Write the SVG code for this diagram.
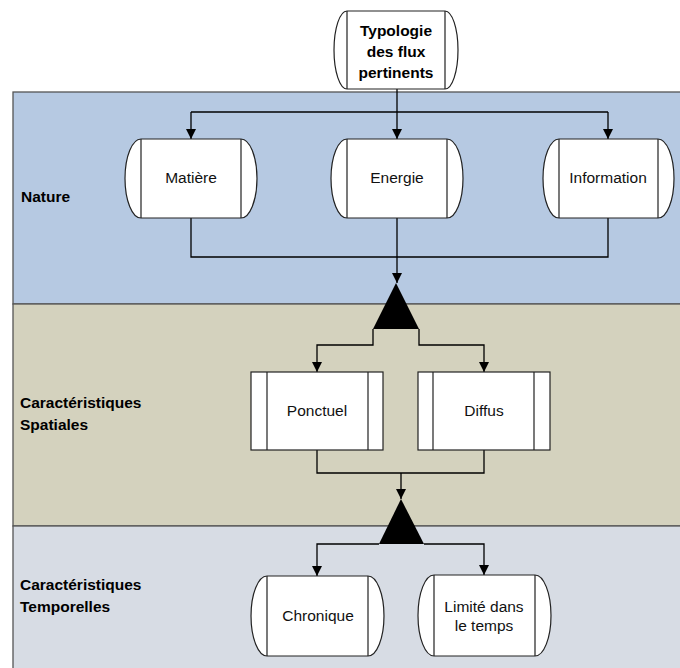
<svg xmlns="http://www.w3.org/2000/svg" width="680" height="668" viewBox="0 0 680 668">
<style>
.band{stroke:#555;stroke-width:1.3}
.node{fill:#fff;stroke:#222;stroke-width:1.2}
.inner{stroke:#222;stroke-width:1.2;fill:none}
.lbl{font-family:"Liberation Sans",Arial,sans-serif;font-size:15.5px;font-weight:bold;fill:#000}
.txt{font-family:"Liberation Sans",Arial,sans-serif;font-size:15.5px;fill:#111;text-anchor:middle}
.bt{font-family:"Liberation Sans",Arial,sans-serif;font-size:15.5px;font-weight:bold;fill:#000;text-anchor:middle}
.con{fill:none;stroke:#000;stroke-width:1.3}
</style>
<defs>
<marker id="ah" viewBox="0 0 10 10" refX="10" refY="5" markerWidth="10" markerHeight="10" markerUnits="userSpaceOnUse" orient="auto">
<path d="M0,0 L10,5 L0,10 z" fill="#000"/>
</marker>
</defs>
<g id="bands">
<rect class="band" x="13" y="92" width="680" height="212" fill="#b6c9e2"/>
<rect class="band" x="13" y="304" width="680" height="222" fill="#d4d2be"/>
<rect class="band" x="13" y="526" width="680" height="160" fill="#d7dce4"/>
<text class="lbl" x="21" y="202">Nature</text>
<text class="lbl" x="20" y="408">Caractéristiques</text>
<text class="lbl" x="20" y="430">Spatiales</text>
<text class="lbl" x="20" y="590">Caractéristiques</text>
<text class="lbl" x="20" y="612">Temporelles</text>
</g>
<g id="connectors">
<path class="con" d="M397,89 V112"/>
<path class="con" d="M191,112 H608"/>
<path class="con" d="M191,112 V139" marker-end="url(#ah)"/>
<path class="con" d="M397,112 V139" marker-end="url(#ah)"/>
<path class="con" d="M608,112 V139" marker-end="url(#ah)"/>
<path class="con" d="M191,218 V257 H608 V218"/>
<path class="con" d="M397,218 V283" marker-end="url(#ah)"/>
<path class="con" d="M373,329 V345 H317 V372" marker-end="url(#ah)"/>
<path class="con" d="M419,329 V345 H484 V372" marker-end="url(#ah)"/>
<path class="con" d="M317,450 V473 H484 V450"/>
<path class="con" d="M401,473 V499" marker-end="url(#ah)"/>
<path class="con" d="M379,544 H317 V576" marker-end="url(#ah)"/>
<path class="con" d="M424,544 H484 V575" marker-end="url(#ah)"/>
</g>
<g id="merge1"><path d="M396,283 L419,329 L373,329 z" fill="#000"/></g>
<g id="merge2"><path d="M401,499 L424,544 L379,544 z" fill="#000"/></g>
<g id="typologie">
<path class="node" d="M347,11 H445 A13,39 0 0 1 445,89 H347 A13,39 0 0 1 347,11 z"/>
<path class="inner" d="M347,11 V89 M445,11 V89"/>
<text class="bt" x="396" y="36">Typologie</text>
<text class="bt" x="396" y="57">des flux</text>
<text class="bt" x="396" y="78">pertinents</text>
</g>
<g id="matiere">
<path class="node" d="M141,139 H241 A16,39.5 0 0 1 241,218 H141 A16,39.5 0 0 1 141,139 z"/>
<path class="inner" d="M141,139 V218 M241,139 V218"/>
<text class="txt" x="191" y="183">Matière</text>
</g>
<g id="energie">
<path class="node" d="M347,139 H447 A16,39.5 0 0 1 447,218 H347 A16,39.5 0 0 1 347,139 z"/>
<path class="inner" d="M347,139 V218 M447,139 V218"/>
<text class="txt" x="397" y="183">Energie</text>
</g>
<g id="information">
<path class="node" d="M559,139 H658 A16,39.5 0 0 1 658,218 H559 A16,39.5 0 0 1 559,139 z"/>
<path class="inner" d="M559,139 V218 M658,139 V218"/>
<text class="txt" x="608" y="183">Information</text>
</g>
<g id="ponctuel">
<rect class="node" x="251" y="372" width="132" height="78"/>
<path class="inner" d="M267,372 V450 M368,372 V450"/>
<text class="txt" x="317" y="416">Ponctuel</text>
</g>
<g id="diffus">
<rect class="node" x="418" y="372" width="132" height="78"/>
<path class="inner" d="M433,372 V450 M534,372 V450"/>
<text class="txt" x="484" y="416">Diffus</text>
</g>
<g id="chronique">
<path class="node" d="M267,576 H368 A16,40 0 0 1 368,656 H267 A16,40 0 0 1 267,576 z"/>
<path class="inner" d="M267,576 V656 M368,576 V656"/>
<text class="txt" x="318" y="621">Chronique</text>
</g>
<g id="limite">
<path class="node" d="M434,575 H535 A16,40.5 0 0 1 535,656 H434 A16,40.5 0 0 1 434,575 z"/>
<path class="inner" d="M434,575 V656 M535,575 V656"/>
<text class="txt" x="484" y="612">Limité dans</text>
<text class="txt" x="484" y="631">le temps</text>
</g>
</svg>
